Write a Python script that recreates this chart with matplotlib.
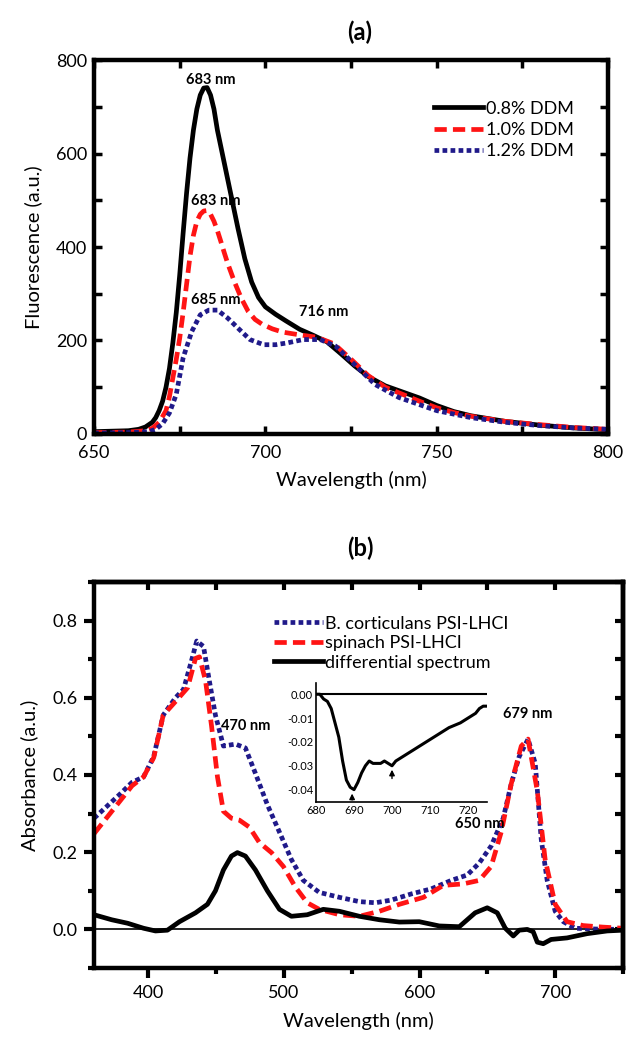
import numpy as np
import matplotlib
matplotlib.use('Agg')
import matplotlib.pyplot as plt
from matplotlib.ticker import MultipleLocator

plt.rcParams['font.family'] = ['Lato', 'DejaVu Sans']
plt.rcParams['axes.unicode_minus'] = False

# ---- panel (a): fluorescence spectra ----
wl_a = [650, 660, 663, 665, 667, 668, 669, 670, 671, 672, 673, 674, 675, 676, 677, 678,
        679, 680, 681, 682, 683, 684, 685, 686, 688, 690, 692, 694, 696, 698, 700, 703,
        706, 710, 714, 718, 722, 726, 730, 735, 740, 745, 750, 755, 760, 770, 780, 790, 800]
ddm08 = [5, 7, 10, 15, 25, 35, 50, 70, 100, 140, 195, 260, 340, 430, 515, 590,
         650, 695, 725, 740, 741, 725, 695, 650, 580, 510, 440, 375, 325, 292, 272, 256,
         242, 224, 211, 197, 172, 146, 123, 103, 90, 77, 61, 48, 39, 27, 19, 13, 9]
wl_red = [650, 660, 665, 667, 669, 671, 672, 673, 674, 675, 676, 677, 678, 679, 680, 681,
          682, 683, 684, 685, 686, 687, 688, 689, 691, 693, 695, 697, 699, 702, 705, 710,
          715, 720, 725, 730, 735, 740, 745, 750, 755, 760, 770, 780, 790, 800]
ddm10 = [3, 4, 7, 12, 25, 50, 80, 120, 160, 205, 260, 320, 380, 425, 455, 470,
         477, 478, 470, 455, 435, 412, 388, 365, 325, 290, 262, 245, 235, 225, 218, 212,
         207, 193, 160, 125, 100, 85, 70, 56, 46, 38, 27, 20, 14, 10]
wl_blue = [650, 660, 666, 668, 670, 672, 674, 676, 678.5, 681, 683.5, 686, 689, 692.5, 695.5,
           699.5, 703, 706.5, 711, 716, 720.5, 725, 732, 739, 750, 760, 770, 780, 790, 800]
ddm12 = [2, 3, 5, 10, 22, 45, 85, 163, 219, 255, 265, 265, 248, 223, 202,
         191, 191, 195, 202, 202, 188, 156, 106, 78, 50, 35, 25, 18, 13, 10]

# ---- panel (b): absorbance spectra ----
wl_bc = [360, 379, 388, 396.5, 404, 411, 420, 426, 432, 435.7, 440.7, 445, 449.5, 455.4,
         464.3, 471.6, 479, 487.8, 496.7, 505.5, 514.3, 526, 541, 555.6, 567.4, 579.2,
         594, 608.6, 623.4, 635.2, 644, 652.8, 661.7, 667.6, 673.5, 680, 685.3, 689.7,
         694.1, 700, 706, 714.7, 730, 750]
abs_bc = [0.288, 0.35, 0.381, 0.395, 0.448, 0.555, 0.6, 0.622, 0.698, 0.747, 0.733, 0.644,
          0.555, 0.475, 0.48, 0.47, 0.404, 0.323, 0.252, 0.181, 0.127, 0.096, 0.083, 0.072,
          0.069, 0.076, 0.092, 0.105, 0.127, 0.141, 0.172, 0.216, 0.288, 0.377, 0.448,
          0.493, 0.43, 0.234, 0.127, 0.047, 0.02, 0.003, 0.001, 0.0]
wl_sp = [360, 379, 388, 396.5, 404, 411, 420, 429, 434.8, 437.7, 442.2, 446.6, 451, 455.4,
         461.3, 467.2, 474.5, 481.9, 490.8, 499.6, 508.4, 517.2, 526, 541, 555.6, 570.4,
         585.1, 602.8, 617.5, 632.3, 644, 652.8, 660.2, 667.6, 675, 680, 686.8, 692.6,
         700, 708.8, 720.6, 735, 750]
abs_sp = [0.248, 0.332, 0.372, 0.395, 0.445, 0.555, 0.59, 0.626, 0.702, 0.706, 0.644, 0.528,
          0.395, 0.306, 0.288, 0.283, 0.265, 0.225, 0.199, 0.163, 0.11, 0.069, 0.052, 0.038,
          0.034, 0.047, 0.065, 0.083, 0.114, 0.118, 0.127, 0.163, 0.252, 0.377, 0.475,
          0.493, 0.359, 0.181, 0.065, 0.02, 0.01, 0.006, 0.003]
wl_diff = [360, 373, 384.7, 396.5, 405.3, 414.1, 423, 434.8, 443.6, 449.5, 455.4, 461.3,
           465.7, 471.6, 479, 487.8, 496.7, 505.5, 517.2, 529, 540.9, 555.6, 570.4, 585.1,
           599.8, 614.5, 629.3, 641, 649.9, 657.3, 663.2, 669.1, 673.5, 679.4, 683.8, 686.8,
           691.2, 697, 708.8, 723.6, 738.3, 750]
abs_diff = [0.038, 0.025, 0.016, 0.003, -0.004, -0.002, 0.02, 0.043, 0.065, 0.1, 0.154, 0.19,
            0.199, 0.19, 0.154, 0.1, 0.052, 0.034, 0.038, 0.052, 0.047, 0.034, 0.025, 0.019,
            0.02, 0.009, 0.007, 0.043, 0.056, 0.043, 0.003, -0.017, -0.002, 0.0, -0.006,
            -0.033, -0.037, -0.026, -0.022, -0.011, -0.004, -0.002]

# inset: zoom of the differential spectrum
wl_ins = [680, 681, 682, 683, 684, 685, 686, 687, 688, 689, 690, 691, 692, 693, 694, 695,
          696, 697, 698, 699, 700, 701, 703, 705, 707, 710, 713, 715, 718, 720, 722, 723, 724, 725]
d_ins = [0.0, 0.0, -0.002, -0.003, -0.006, -0.012, -0.018, -0.028, -0.036, -0.039, -0.040,
         -0.037, -0.033, -0.030, -0.028, -0.029, -0.029, -0.029, -0.028, -0.029, -0.030,
         -0.028, -0.026, -0.024, -0.022, -0.019, -0.016, -0.014, -0.012, -0.010, -0.008,
         -0.006, -0.005, -0.005]

RED = '#ff1414'
BLUE = '#201a8a'

fig = plt.figure(figsize=(6.27, 10.42), dpi=100)

# ---------------- (a) ----------------
ax = fig.add_axes([0.150, 0.5835, 0.8197, 0.3589])
ax.plot(wl_a, ddm08, color='black', lw=3.4, label='0.8% DDM', solid_joinstyle='round')
ax.plot(wl_red, ddm10, color=RED, lw=3.4, dashes=(2.6, 1.3), label='1.0% DDM')
ax.plot(wl_blue, ddm12, color=BLUE, lw=3.4, dashes=(1.0, 0.7), label='1.2% DDM')
ax.set_xlim(650, 800)
ax.set_ylim(0, 800)
ax.xaxis.set_major_locator(MultipleLocator(50))
ax.xaxis.set_minor_locator(MultipleLocator(25))
ax.yaxis.set_major_locator(MultipleLocator(200))
ax.yaxis.set_minor_locator(MultipleLocator(100))
ax.tick_params(which='both', direction='in', top=True, right=True, width=2.5, length=6,
               labelsize=13, pad=5)
ax.tick_params(axis='x', pad=8)
for s in ax.spines.values():
    s.set_linewidth(3.2)
ax.set_xlabel('Wavelength (nm)', fontsize=14.5, labelpad=7)
ax.set_ylabel('Fluorescence (a.u.)', fontsize=14.5, labelpad=10)
ax.legend(loc='upper right', bbox_to_anchor=(0.965, 0.935), frameon=False, fontsize=13,
          handlelength=2.7, handletextpad=0.15, labelspacing=0.3)
kw = dict(fontsize=10.5, fontweight='bold', ha='center', va='bottom')
ax.text(684, 742, '683 nm', **kw)
ax.text(685.5, 484, '683 nm', **kw)
ax.text(685.5, 272, '685 nm', **kw)
ax.text(717, 245, '716 nm', **kw)
fig.text(0.574, 0.969, '(a)', fontsize=17, fontweight='bold', ha='center', va='center')

# ---------------- (b) ----------------
bx = fig.add_axes([0.150, 0.0710, 0.8436, 0.3705])
bx.plot(wl_bc, abs_bc, color=BLUE, lw=3.4, dashes=(1.0, 0.7), label='B. corticulans PSI-LHCI')
bx.plot(wl_sp, abs_sp, color=RED, lw=3.4, dashes=(2.6, 1.3), label='spinach PSI-LHCI')
bx.plot(wl_diff, abs_diff, color='black', lw=3.4, label='differential spectrum')
bx.axhline(0, color='black', lw=1.2, zorder=1)
bx.set_xlim(360, 750)
bx.set_ylim(-0.1, 0.9)
bx.xaxis.set_major_locator(MultipleLocator(100))
bx.xaxis.set_minor_locator(MultipleLocator(50))
bx.yaxis.set_major_locator(MultipleLocator(0.2))
bx.yaxis.set_minor_locator(MultipleLocator(0.1))
bx.set_yticks([0.0, 0.2, 0.4, 0.6, 0.8])
bx.tick_params(which='major', direction='out', width=3, length=7, labelsize=13, pad=5)
bx.tick_params(which='minor', direction='out', width=3, length=4)
for s in bx.spines.values():
    s.set_linewidth(3.2)
top = bx.secondary_xaxis('top')
top.xaxis.set_major_locator(MultipleLocator(50))
top.tick_params(direction='in', width=3, length=6, labeltop=False)
right = bx.secondary_yaxis('right')
right.yaxis.set_major_locator(MultipleLocator(0.1))
right.tick_params(direction='in', width=3, length=6, labelright=False)
for sec in (top, right):
    for s in sec.spines.values():
        s.set_linewidth(3.2)
bx.set_xlabel('Wavelength (nm)', fontsize=14.5, labelpad=8)
bx.set_ylabel('Absorbance (a.u.)', fontsize=14.5, labelpad=10)
bx.legend(loc='upper left', bbox_to_anchor=(0.31, 0.955), frameon=False, fontsize=13,
          handlelength=2.7, handletextpad=0.1, labelspacing=0.2)
bx.text(471.5, 0.51, '470 nm', **kw)
bx.text(679.5, 0.54, '679 nm', **kw)
bx.text(644.5, 0.255, '650 nm', **kw)
fig.text(0.574, 0.474, '(b)', fontsize=17, fontweight='bold', ha='center', va='center')

# inset
ins = fig.add_axes([0.504, 0.2303, 0.2727, 0.1142])
ins.plot(wl_ins, d_ins, color='black', lw=2.2)
ins.axhline(0, color='black', lw=1.5)
ins.set_xlim(680, 725)
ins.set_ylim(-0.0452, 0.0047)
ins.set_xticks([680, 690, 700, 710, 720])
ins.set_yticks([0.0, -0.01, -0.02, -0.03, -0.04])
ins.set_yticklabels(['0.00', '-0.01', '-0.02', '-0.03', '-0.04'])
ins.tick_params(length=0, labelsize=8, pad=2)
ins.spines['top'].set_visible(False)
ins.spines['right'].set_visible(False)
ins.spines['left'].set_linewidth(1.2)
ins.spines['bottom'].set_linewidth(1.2)
ins.patch.set_alpha(0)
akw = dict(arrowstyle='-|>', color='black', lw=1, mutation_scale=8)
ins.annotate('', xy=(689.5, -0.0405), xytext=(689.5, -0.0455), arrowprops=akw,
             annotation_clip=False)
ins.annotate('', xy=(700, -0.0305), xytext=(700, -0.0365), arrowprops=akw)

fig.savefig('out.png', dpi=100)
